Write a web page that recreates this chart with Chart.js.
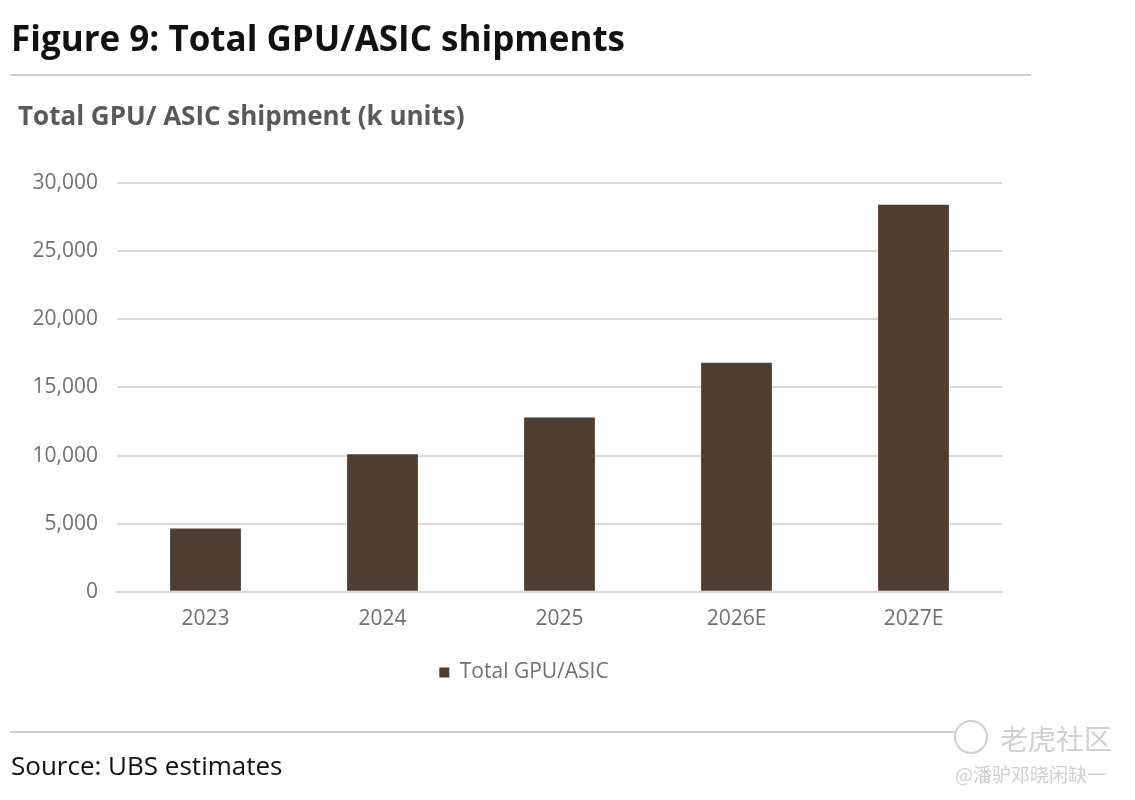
<!DOCTYPE html>
<html>
<head>
<meta charset="utf-8">
<script src="https://cdn.jsdelivr.net/npm/chart.js@4.4.1/dist/chart.umd.min.js"></script>
<style>
  html, body { margin: 0; padding: 0; background: #ffffff; }
  #page { position: relative; width: 1135px; height: 800px; overflow: hidden; background: #fff; }
  #wrap { position: absolute; left: 0; top: 0; width: 1135px; height: 800px; }
  .abs { position: absolute; white-space: nowrap; }
  #fig { left: 11px; top: 14px; font-family: "Open Sans", sans-serif; font-weight: 700; font-size: 35px; color: #111; }
  #rule1 { left: 10px; top: 74px; width: 1021px; height: 2px; background: #cfcfcf; }
  #sub { left: 18px; top: 97px; font-family: "Open Sans", sans-serif; font-weight: 700; font-size: 26px; color: #595959; }
  #rule2 { left: 10px; top: 731px; width: 952px; height: 2px; background: #cfcfcf; }
  #src { left: 11px; top: 747px; font-family: "Open Sans", sans-serif; font-size: 26px; color: #111; }
  #wm1 { left: 1000px; top: 718px; font-family: "Noto Sans CJK SC", sans-serif; font-size: 28px; color: #d0d0d0; }
  #wm2 { left: 955px; top: 760px; font-family: "Noto Sans CJK SC", sans-serif; font-size: 19px; color: #cfcfcf; }
  #logo { left: 954px; top: 720px; width: 30px; height: 30px; border: 2px solid #d0d0d0; border-radius: 50%; background: #fff; }
</style>
</head>
<body>
<div id="page">
  <div id="wrap"><canvas id="c"></canvas></div>
  <div class="abs" id="fig">Figure 9: Total GPU/ASIC shipments</div>
  <div class="abs" id="rule1"></div>
  <div class="abs" id="sub">Total GPU/ ASIC shipment (k units)</div>
  <div class="abs" id="rule2"></div>
  <div class="abs" id="src">Source: UBS estimates</div>
  <div class="abs" id="logo"></div>
  <div class="abs" id="wm1">老虎社区</div>
  <div class="abs" id="wm2">@潘驴邓晓闲缺一</div>
</div>
<script>
const categories = ["2023", "2024", "2025", "2026E", "2027E"];
const seriesName = "Total GPU/ASIC";
const shipments = [4650, 10100, 12800, 16800, 28400];
const yTicks = [0, 5000, 10000, 15000, 20000, 25000, 30000];

const barColor = "#4e3d31";
const tickColor = "#707070";
const font = "'Open Sans', sans-serif";
const legendShiftX = 23;

const legendShift = {
  id: "legendShift",
  afterLayout(chart) {
    const l = chart.legend;
    if (l) { l.left += legendShiftX; l.right += legendShiftX; }
  }
};

new Chart(document.getElementById("c"), {
  type: "bar",
  data: {
    labels: categories,
    datasets: [{
      label: seriesName,
      data: shipments,
      backgroundColor: barColor,
      borderWidth: 0,
      barPercentage: 0.8,
      categoryPercentage: 0.5
    }]
  },
  plugins: [legendShift],
  options: {
    responsive: true,
    maintainAspectRatio: false,
    animation: false,
    devicePixelRatio: 1,
    layout: { padding: { left: 0, right: 133, top: 183, bottom: 107 } },
    plugins: {
      legend: {
        position: "bottom",
        labels: {
          font: { family: font, size: 21 },
          color: tickColor,
          boxWidth: 10,
          boxHeight: 10,
          padding: 15
        }
      },
      tooltip: { enabled: false },
      title: { display: false }
    },
    scales: {
      x: {
        grid: { display: false, drawTicks: false },
        border: { display: true, color: "#d9d9d9", width: 2 },
        ticks: { font: { family: font, size: 21 }, color: tickColor, padding: 15 }
      },
      y: {
        min: 0,
        max: 30000,
        afterFit: function (s) { s.width = 117; },
        afterBuildTicks: function (s) { s.ticks = yTicks.map(v => ({ value: v })); },
        grid: { color: "#dadada", lineWidth: 2, drawTicks: false },
        border: { display: false },
        ticks: {
          font: { family: font, size: 21 },
          color: tickColor,
          padding: 19,
          callback: function (v) { return v.toLocaleString("en-US"); }
        }
      }
    }
  }
});
</script>
</body>
</html>
